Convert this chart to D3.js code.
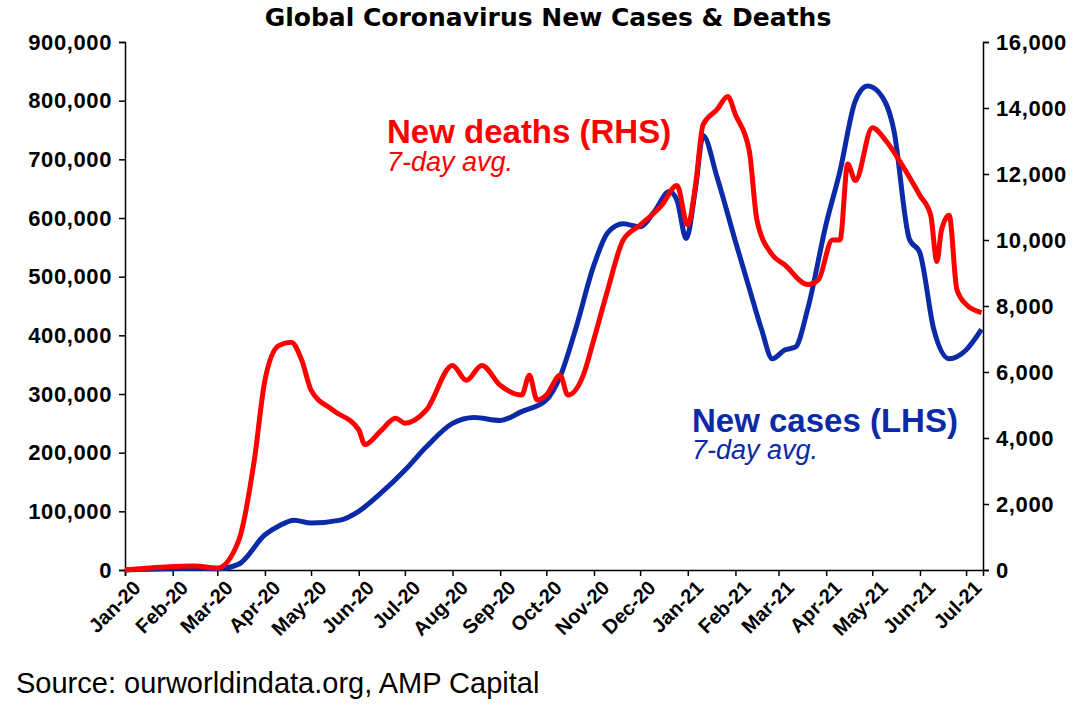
<!DOCTYPE html>
<html>
<head>
<meta charset="utf-8">
<script src="https://cdn.jsdelivr.net/npm/d3@7"></script>
<style>
  body { margin: 0; background: #fff; font-family: "Liberation Sans", Arial, sans-serif; }
  svg text { font-family: "Liberation Sans", Arial, sans-serif; }
</style>
</head>
<body>
<svg id="chart" width="1089" height="713"></svg>
<script>
// new cases, 7-day avg (LHS)
const caseDates = ["2020-01-01","2020-02-20","2020-03-01","2020-03-15","2020-04-01","2020-04-10","2020-04-20","2020-05-01","2020-05-20","2020-06-01","2020-06-15","2020-07-01","2020-07-15","2020-08-01","2020-08-15","2020-09-01","2020-09-15","2020-10-01","2020-10-10","2020-10-20","2020-11-01","2020-11-10","2020-11-20","2020-12-01","2020-12-10","2020-12-20","2020-12-25","2020-12-31","2021-01-06","2021-01-11","2021-01-20","2021-02-01","2021-02-10","2021-02-18","2021-02-25","2021-03-05","2021-03-12","2021-03-20","2021-04-01","2021-04-10","2021-04-20","2021-04-28","2021-05-05","2021-05-15","2021-05-25","2021-06-01","2021-06-10","2021-06-20","2021-07-01","2021-07-11"];
const caseValues = [0,3000,2000,10000,60000,75000,85000,80000,85000,100000,130000,170000,210000,250000,260000,255000,270000,290000,330000,410000,520000,575000,590000,585000,610000,645000,630000,565000,650000,740000,670000,560000,480000,410000,360000,375000,380000,445000,590000,680000,800000,825000,815000,750000,565000,540000,410000,360000,375000,410000];

// new deaths, 7-day avg (RHS)
const deathDates = ["2020-01-01","2020-02-15","2020-03-01","2020-03-15","2020-03-25","2020-04-01","2020-04-10","2020-04-18","2020-04-25","2020-05-01","2020-05-15","2020-06-01","2020-06-05","2020-06-15","2020-06-25","2020-07-01","2020-07-15","2020-08-01","2020-08-10","2020-08-20","2020-09-01","2020-09-15","2020-09-20","2020-09-25","2020-10-01","2020-10-10","2020-10-15","2020-10-25","2020-11-01","2020-11-10","2020-11-20","2020-12-01","2020-12-15","2020-12-25","2021-01-01","2021-01-06","2021-01-11","2021-01-20","2021-01-27","2021-02-01","2021-02-10","2021-02-15","2021-02-25","2021-03-05","2021-03-20","2021-03-27","2021-04-05","2021-04-10","2021-04-15","2021-04-20","2021-05-01","2021-05-10","2021-05-20","2021-06-01","2021-06-08","2021-06-12","2021-06-15","2021-06-20","2021-06-25","2021-07-01","2021-07-11"];
const deathValues = [0,120,60,900,3300,5750,6800,6900,6350,5450,4850,4250,3800,4200,4600,4450,4850,6200,5750,6200,5600,5300,5900,5150,5300,5900,5300,5900,7000,8500,10000,10450,11050,11650,10450,11650,13500,13950,14350,13800,12700,10600,9550,9250,8650,8800,10000,10000,12300,11800,13400,13000,12300,11350,10750,9350,10300,10750,8500,8050,7800];

const leftTicks = [0,100000,200000,300000,400000,500000,600000,700000,800000,900000];
const rightTicks = [0,2000,4000,6000,8000,10000,12000,14000,16000];
const monthTicks = d3.timeMonths(new Date(2020,0,1), new Date(2021,6,2));

const svg = d3.select("#chart");
const m = {l: 125, r: 983, t: 42, b: 570};
const parse = d3.timeParse("%Y-%m-%d");

const x = d3.scaleTime().domain([new Date(2020,0,1), new Date(2021,6,12)]).range([m.l, m.r]);
const yL = d3.scaleLinear().domain([0, 900000]).range([m.b, m.t]);
const yR = d3.scaleLinear().domain([0, 16000]).range([m.b, m.t]);

svg.append("text").attr("x", 548).attr("y", 26).attr("text-anchor", "middle")
  .style("font-size", "25px").style("font-weight", "bold")
  .style("font-family", "'DejaVu Sans', sans-serif")
  .text("Global Coronavirus New Cases & Deaths");

// axes
const gl = svg.append("g").attr("transform", `translate(${m.l},0)`)
  .call(d3.axisLeft(yL).tickValues(leftTicks).tickFormat(d3.format(",")).tickSize(6));
const gr = svg.append("g").attr("transform", `translate(${m.r},0)`)
  .call(d3.axisRight(yR).tickValues(rightTicks).tickFormat(d3.format(",")).tickSize(6));
const gb = svg.append("g").attr("transform", `translate(0,${m.b})`)
  .call(d3.axisBottom(x).tickValues(monthTicks).tickFormat(d3.timeFormat("%b-%y")).tickSize(6));

[gl, gr, gb].forEach(g => {
  g.selectAll("path, line").attr("stroke", "#000").attr("stroke-width", 1.5);
  g.selectAll("text").style("font-size", "22px").style("font-weight", "bold")
    .style("letter-spacing", "0.6px").attr("fill", "#000");
});
gl.selectAll("text").attr("dx", "-4");
gr.selectAll("text").attr("dx", "4");
gb.selectAll("text").style("font-size", "20px").style("letter-spacing", "0")
  .attr("text-anchor", "end").attr("dx", "-2").attr("dy", "0.8em")
  .attr("transform", "rotate(-45)");

const line = (ys) => d3.line().curve(d3.curveMonotoneX).x(d => x(d[0])).y(d => ys(d[1]));

svg.append("path").datum(caseDates.map((d, i) => [parse(d), caseValues[i]]))
  .attr("fill", "none").attr("stroke", "#0a2aa8").attr("stroke-width", 5)
  .attr("d", line(yL));
svg.append("path").datum(deathDates.map((d, i) => [parse(d), deathValues[i]]))
  .attr("fill", "none").attr("stroke", "#ff0000").attr("stroke-width", 5)
  .attr("d", line(yR));

// labels
svg.append("text").attr("x", 387).attr("y", 143).attr("fill", "#ff0000")
  .style("font-size", "33px").style("font-weight", "bold").text("New deaths (RHS)");
svg.append("text").attr("x", 387).attr("y", 171).attr("fill", "#ff0000")
  .style("font-size", "27px").style("font-style", "italic").text("7-day avg.");
svg.append("text").attr("x", 692).attr("y", 432).attr("fill", "#0a2aa8")
  .style("font-size", "33px").style("font-weight", "bold").text("New cases (LHS)");
svg.append("text").attr("x", 692).attr("y", 459).attr("fill", "#0a2aa8")
  .style("font-size", "27px").style("font-style", "italic").text("7-day avg.");

svg.append("text").attr("x", 16).attr("y", 693)
  .style("font-size", "29px").text("Source: ourworldindata.org, AMP Capital");
</script>
</body>
</html>
